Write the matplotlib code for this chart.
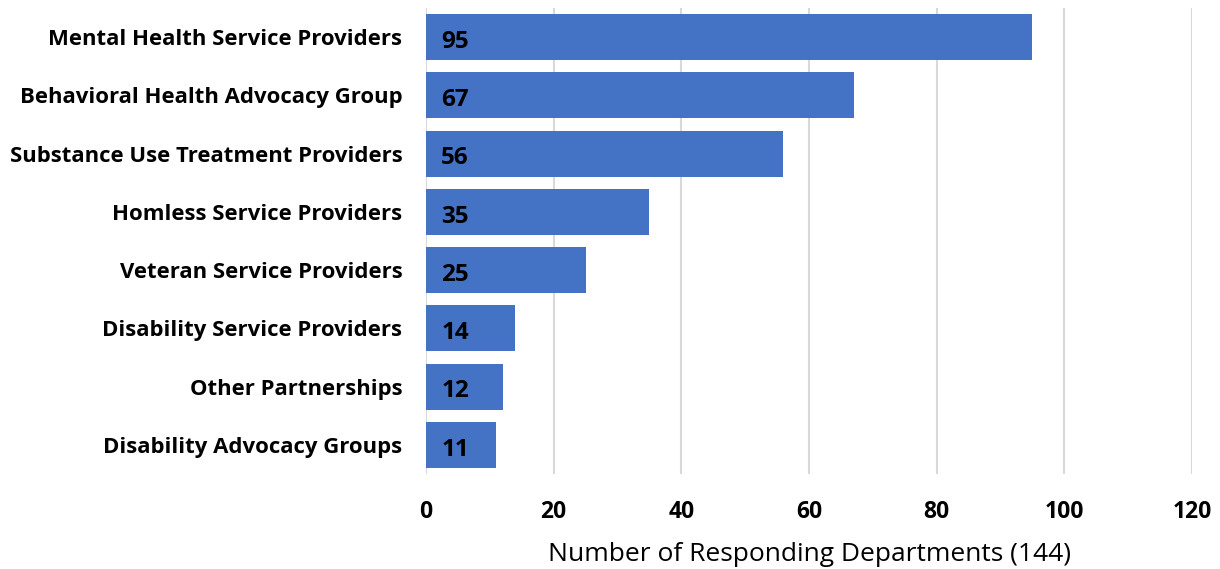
import matplotlib
matplotlib.use("Agg")
import matplotlib.pyplot as plt

categories = [
    "Mental Health Service Providers",
    "Behavioral Health Advocacy Group",
    "Substance Use Treatment Providers",
    "Homless Service Providers",
    "Veteran Service Providers",
    "Disability Service Providers",
    "Other Partnerships",
    "Disability Advocacy Groups",
]
counts = [95, 67, 56, 35, 25, 14, 12, 11]
x_ticks = [0, 20, 40, 60, 80, 100, 120]
x_label = "Number of Responding Departments (144)"

plt.rcParams["font.family"] = ["Open Sans", "DejaVu Sans"]

fig = plt.figure(figsize=(12.2, 5.69), dpi=100)
ax = fig.add_axes([426 / 1220, 1 - 474 / 569, (1192 - 426) / 1220, (474 - 8) / 569])

ypos = list(range(len(categories)))
ax.barh(ypos, counts, height=0.79, color="#4472C4", zorder=3)
ax.set_ylim(len(categories) - 0.5, -0.5)
ax.set_xlim(0, 120)
ax.set_xticks(x_ticks)
ax.set_xticklabels([str(t) for t in x_ticks], fontsize=16.5, fontweight="bold")
ax.set_yticks(ypos)
ax.set_yticklabels(categories, fontsize=15.9, fontweight="bold")
ax.tick_params(axis="both", length=0)
ax.tick_params(axis="x", pad=19)
ax.tick_params(axis="y", pad=17)

for y, v in zip(ypos, counts):
    ax.annotate(str(v), xy=(0, y), xytext=(11, -3.5), textcoords="offset points",
                va="center", ha="left", fontsize=17.5, fontweight="bold", color="black", zorder=4)

ax.grid(axis="x", color="#d9d9d9", linewidth=1.5, zorder=0)
for s in ax.spines.values():
    s.set_visible(False)

ax.set_xlabel(x_label, fontsize=19, labelpad=13)

fig.savefig("out.png", dpi=100)
